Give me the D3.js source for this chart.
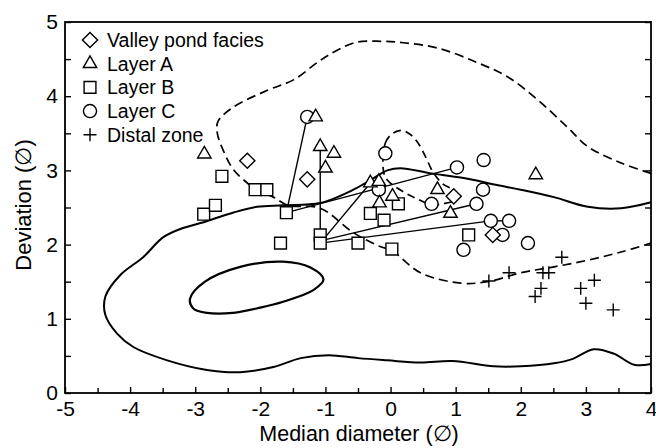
<!DOCTYPE html>
<html>
<head>
<meta charset="utf-8">
<script src="https://cdn.jsdelivr.net/npm/d3@7"></script>
<style>
  body { margin: 0; background: #fff; }
  svg { font-family: 'Liberation Sans', Arial, Helvetica, sans-serif; }
</style>
</head>
<body>
<div id="vis"></div>
<script>
const FRAME_WIDTH = 656;
const FRAME_HEIGHT = 448;

// tick values
const X_TICKS = [-5, -4, -3, -2, -1, 0, 1, 2, 3, 4];
const X_MINOR = [-4.5, -3.5, -2.5, -1.5, -0.5, 0.5, 1.5, 2.5, 3.5];
const Y_TICKS = [0, 1, 2, 3, 4, 5];
const Y_MINOR = [0.5, 1.5, 2.5, 3.5, 4.5];

// sample points [median diameter, deviation]
const valleyPond = [[-2.2, 3.13], [-1.28, 2.88], [0.97, 2.65], [1.57, 2.13]];
const layerA = [
  [-2.86, 3.22], [-1.15, 3.72], [-1.08, 3.32], [-1.0, 3.03], [-0.87, 3.23],
  [-0.31, 2.83], [-0.18, 2.85], [-0.17, 2.56], [0.03, 2.65], [0.72, 2.74],
  [0.92, 2.42], [2.23, 2.94]
];
const layerB = [
  [-2.87, 2.41], [-2.69, 2.53], [-2.59, 2.92], [-2.08, 2.74], [-1.9, 2.74],
  [-1.6, 2.43], [-1.69, 2.02], [-1.08, 2.13], [-1.08, 2.02], [-0.5, 2.02],
  [-0.31, 2.42], [-0.1, 2.33], [0.12, 2.55], [0.02, 1.94], [1.2, 2.13]
];
const layerC = [
  [-1.28, 3.72], [-0.08, 3.23], [-0.18, 2.74], [0.63, 2.55], [1.02, 3.04],
  [1.43, 3.14], [1.42, 2.74], [1.32, 2.55], [1.54, 2.32], [1.82, 2.32],
  [1.72, 2.13], [1.12, 1.93], [2.11, 2.02]
];
const distal = [
  [2.63, 1.83], [1.82, 1.62], [1.51, 1.51], [2.34, 1.62], [2.43, 1.62],
  [2.31, 1.41], [2.22, 1.3], [2.92, 1.41], [3.13, 1.52], [3.0, 1.21], [3.42, 1.12]
];

// tie lines between samples
const tieLines = [
  [[-1.28, 3.72], [-1.6, 2.43]],
  [[-1.08, 3.32], [-1.08, 2.13]],
  [[-1.6, 2.43], [1.02, 3.04]],
  [[-1.08, 2.02], [-0.31, 2.83]],
  [[-1.08, 2.05], [1.32, 2.55]],
  [[-1.08, 2.02], [1.54, 2.32]],
  [[1.54, 2.32], [1.82, 2.32]]
];

// solid contours
const outerContour = [
  [4.0, 2.57], [3.54, 2.49], [3.03, 2.51], [2.51, 2.64], [2.0, 2.74], [1.65, 2.8],
  [1.1, 2.9], [0.62, 2.96], [0.15, 3.03], [-0.05, 3.0], [-0.31, 2.87], [-0.57, 2.74],
  [-1.08, 2.56], [-1.65, 2.53], [-2.05, 2.51], [-2.42, 2.43], [-2.92, 2.29],
  [-3.2, 2.22], [-3.49, 2.1], [-3.8, 1.83], [-4.15, 1.59], [-4.38, 1.3], [-4.38, 1.05],
  [-4.2, 0.8], [-3.95, 0.62], [-3.43, 0.44], [-2.82, 0.31], [-2.31, 0.28], [-1.8, 0.35],
  [-1.38, 0.47], [-0.95, 0.51], [-0.5, 0.47], [-0.05, 0.44], [0.46, 0.41], [0.95, 0.43],
  [1.58, 0.36], [2.0, 0.36], [2.51, 0.4], [2.8, 0.46], [3.12, 0.59], [3.43, 0.53],
  [3.74, 0.38], [4.0, 0.39]
];
const innerContour = [
  [-3.08, 1.27], [-2.85, 1.5], [-2.31, 1.7], [-1.65, 1.77], [-1.23, 1.69], [-1.03, 1.53],
  [-1.18, 1.39], [-1.65, 1.23], [-2.0, 1.15], [-2.42, 1.08], [-2.82, 1.08], [-3.03, 1.14]
];

// dashed contours
const dashedContour = [
  [4.0, 2.96], [3.54, 3.1], [3.03, 3.32], [2.72, 3.58], [2.26, 3.95], [1.8, 4.26],
  [1.34, 4.45], [0.72, 4.65], [0.2, 4.72], [-0.15, 4.74], [-0.51, 4.73], [-0.82, 4.62],
  [-1.1, 4.47], [-1.49, 4.22], [-1.89, 4.08], [-2.42, 3.85], [-2.65, 3.66], [-2.66, 3.5],
  [-2.57, 3.27], [-2.42, 3.02], [-2.2, 2.83], [-2.0, 2.71], [-1.8, 2.64], [-1.58, 2.53],
  [-1.08, 2.49], [-0.57, 2.16], [-0.15, 1.97], [0.02, 1.92], [0.46, 1.62], [1.08, 1.48],
  [1.49, 1.5], [2.0, 1.62], [2.51, 1.7], [3.03, 1.79], [3.54, 1.9], [4.0, 2.02]
];
const dashedLobe = [
  [-0.11, 3.0], [-0.08, 3.37], [0.02, 3.49], [0.16, 3.54], [0.31, 3.48], [0.43, 3.36],
  [0.54, 3.18], [0.65, 2.98], [0.8, 2.82], [0.98, 2.72], [0.98, 2.6], [0.8, 2.55],
  [0.62, 2.54], [0.4, 2.62], [0.2, 2.71], [-0.05, 2.87]
];

const legendItems = ['Valley pond facies', 'Layer A', 'Layer B', 'Layer C', 'Distal zone'];

function buildChart() {
  const svg = d3.select('#vis')
    .append('svg')
    .attr('width', FRAME_WIDTH)
    .attr('height', FRAME_HEIGHT);

  const X_SCALE = d3.scaleLinear().domain([-5, 4]).range([65, 651]);
  const Y_SCALE = d3.scaleLinear().domain([0, 5]).range([393, 22]);

  const line = d3.line()
    .x((d) => X_SCALE(d[0]))
    .y((d) => Y_SCALE(d[1]));

  // contours
  svg.append('path')
    .attr('d', line.curve(d3.curveCatmullRom)(outerContour))
    .attr('fill', 'none').attr('stroke', '#000').attr('stroke-width', 2);
  svg.append('path')
    .attr('d', line.curve(d3.curveCatmullRomClosed)(innerContour))
    .attr('fill', 'none').attr('stroke', '#000').attr('stroke-width', 2.2);
  svg.append('path')
    .attr('d', line.curve(d3.curveCatmullRom)(dashedContour))
    .attr('fill', 'none').attr('stroke', '#000').attr('stroke-width', 1.7)
    .attr('stroke-dasharray', '9,5');
  svg.append('path')
    .attr('d', line.curve(d3.curveCatmullRomClosed)(dashedLobe))
    .attr('fill', 'none').attr('stroke', '#000').attr('stroke-width', 1.7)
    .attr('stroke-dasharray', '8,5');

  // tie lines
  svg.selectAll('.tie')
    .data(tieLines)
    .enter()
    .append('line')
    .attr('class', 'tie')
    .attr('x1', (d) => X_SCALE(d[0][0]))
    .attr('y1', (d) => Y_SCALE(d[0][1]))
    .attr('x2', (d) => X_SCALE(d[1][0]))
    .attr('y2', (d) => Y_SCALE(d[1][1]))
    .attr('stroke', '#000')
    .attr('stroke-width', 1.4);

  // marker shapes
  const shapes = {
    diamond: { path: d3.symbol(d3.symbolSquare, 115)(), rotate: 45 },
    triangle: { path: d3.symbol(d3.symbolTriangle, 78)(), rotate: 0 },
    square: { path: d3.symbol(d3.symbolSquare, 140)(), rotate: 0 },
    circle: { path: d3.symbol(d3.symbolCircle, 135)(), rotate: 0 },
    plus: { path: d3.symbol(d3.symbolPlus, 57)(), rotate: 0 }
  };

  function drawSeries(data, shape) {
    svg.append('g')
      .selectAll('path')
      .data(data)
      .enter()
      .append('path')
      .attr('d', shapes[shape].path)
      .attr('transform', (d) => `translate(${X_SCALE(d[0])},${Y_SCALE(d[1])}) rotate(${shapes[shape].rotate})`)
      .attr('fill', shape === 'plus' ? 'none' : '#fff')
      .attr('stroke', '#000')
      .attr('stroke-width', 1.4);
  }

  drawSeries(distal, 'plus');
  drawSeries(layerB, 'square');
  drawSeries(layerC, 'circle');
  drawSeries(valleyPond, 'diamond');
  drawSeries(layerA, 'triangle');

  // frame
  svg.append('rect')
    .attr('x', 65).attr('y', 22)
    .attr('width', 651 - 65).attr('height', 393 - 22)
    .attr('fill', 'none').attr('stroke', '#000').attr('stroke-width', 1.8);

  const fmt = (d) => String(d);

  // axes, ticks pointing inwards
  const xAxis = svg.append('g')
    .attr('transform', 'translate(0,393)')
    .call(d3.axisBottom(X_SCALE).tickValues(X_TICKS).tickSize(-6).tickPadding(8).tickFormat(fmt));
  const xMinor = svg.append('g')
    .attr('transform', 'translate(0,393)')
    .call(d3.axisBottom(X_SCALE).tickValues(X_MINOR).tickSize(-5));
  const yAxis = svg.append('g')
    .attr('transform', 'translate(65,0)')
    .call(d3.axisLeft(Y_SCALE).tickValues(Y_TICKS).tickSize(-6).tickPadding(7).tickFormat(fmt));
  const yMinor = svg.append('g')
    .attr('transform', 'translate(65,0)')
    .call(d3.axisLeft(Y_SCALE).tickValues(Y_MINOR).tickSize(-6));
  const yRight = svg.append('g')
    .attr('transform', 'translate(651,0)')
    .call(d3.axisRight(Y_SCALE).tickValues(Y_TICKS.concat(Y_MINOR)).tickSize(-6));

  // minor and right ticks carry no labels
  [xMinor, yMinor, yRight].forEach((g) => g.selectAll('text').remove());

  [xAxis, xMinor, yAxis, yMinor, yRight].forEach((g) => {
    g.select('.domain').remove();
    g.selectAll('line').attr('stroke', '#000').attr('stroke-width', 1.4);
    g.selectAll('text')
      .attr('fill', '#000')
      .attr('font-size', '21px')
      .attr('font-family', "'Liberation Sans', Arial, sans-serif");
  });

  // axis titles
  svg.append('text')
    .attr('x', 359).attr('y', 441)
    .attr('text-anchor', 'middle')
    .attr('font-size', '21.5px')
    .text('Median diameter (\u2205)');
  svg.append('text')
    .attr('transform', 'translate(31,205) rotate(-90)')
    .attr('text-anchor', 'middle')
    .attr('font-size', '22px')
    .text('Deviation (\u2205)');

  // legend
  const legendShapes = ['diamond', 'triangle', 'square', 'circle', 'plus'];
  const legend = svg.append('g').attr('transform', 'translate(90,40)');
  legendItems.forEach((name, i) => {
    const shape = legendShapes[i];
    legend.append('path')
      .attr('d', shapes[shape].path)
      .attr('transform', `translate(0,${i * 23.7}) rotate(${shapes[shape].rotate})`)
      .attr('fill', shape === 'plus' ? 'none' : '#fff')
      .attr('stroke', '#000')
      .attr('stroke-width', 1.4);
    legend.append('text')
      .attr('x', 17)
      .attr('y', i * 23.7 + 7)
      .attr('font-size', '19.5px')
      .text(name);
  });
}

buildChart();
</script>
</body>
</html>
